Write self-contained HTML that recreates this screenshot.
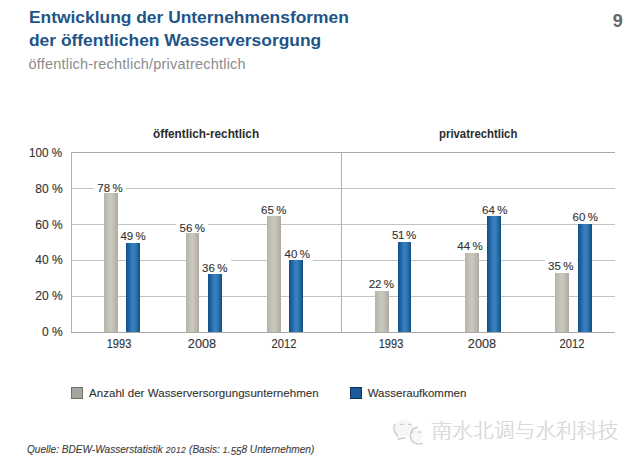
<!DOCTYPE html>
<html><head><meta charset="utf-8">
<style>
*{margin:0;padding:0;box-sizing:border-box}
html,body{width:640px;height:464px;background:#fff;overflow:hidden}
body{position:relative;font-family:"Liberation Sans",Arial,sans-serif;color:#333}
.yl,.xl,.lb,.lg,.src{-webkit-text-stroke:0.12px currentColor}
.a{position:absolute;white-space:nowrap}
.title{left:29px;font-size:17.4px;font-weight:bold;color:#1f5487;line-height:20px}
.sub{left:28.5px;top:55.3px;font-size:14.5px;letter-spacing:0.2px;color:#8c8c8c;line-height:18px}
.pg{left:612.8px;top:11.9px;font-size:18px;line-height:18px;font-weight:bold;color:#666}
.hd{font-size:12.5px;font-weight:bold;color:#2b2b2b;line-height:14px;transform-origin:0 0}
.hl{position:absolute;height:1px;background:#c2c2c2}
.vl{position:absolute;width:1px;background:#b2b2b2}
.yl{position:absolute;right:577.3px;font-size:12px;color:#333;line-height:12px;text-align:right;transform-origin:100% 0}
.xl{position:absolute;font-size:12px;color:#333;line-height:12px;width:40px;margin-left:-20px;text-align:center}
.bar{position:absolute;width:13.8px;bottom:132px;z-index:2}
.g{background:linear-gradient(to right,#b6b4a8 0%,#c4c2b6 30%,#cbc9be 50%,#c0bcb3 72%,#aea8a1 100%)}
.b{background:linear-gradient(to right,#164d82 0%,#1b64a4 20%,#3c7cc2 45%,#3a7fba 58%,#2170a8 78%,#164a7a 100%)}
.lb{position:absolute;font-size:11.5px;color:#333;line-height:12px;background:#fff;padding:2.4px 3.3px 1px;word-spacing:-0.8px;transform:translateX(-50%);z-index:1}
.lg{font-size:11.5px;color:#333;line-height:13px}
.sw{position:absolute;width:12px;height:12px}
.src{left:27.3px;top:442px;font-size:11px;font-style:italic;color:#3c3c3c;line-height:14px;transform-origin:0 0;transform:scaleX(0.917)}
.os{font-size:9.2px;letter-spacing:0.5px}
.dn{font-size:10.6px;position:relative;top:1.8px}
.wm{left:431px;top:418.2px;font-family:"Liberation Sans","Noto Sans CJK SC",sans-serif;font-weight:300;font-size:20.8px;line-height:26px;color:#dadada;text-shadow:-0.6px -0.6px 0 #fff,0.4px 0.4px 0.6px #cdcdcd}
</style></head><body>
<div class="a title" style="top:7px">Entwicklung der Unternehmensformen</div>
<div class="a title" style="top:30px">der öffentlichen Wasserversorgung</div>
<div class="a sub">öffentlich-rechtlich/privatrechtlich</div>
<div class="a pg">9</div>
<div class="a hd" style="left:153px;top:126.6px;transform:scaleX(0.943)">öffentlich-rechtlich</div>
<div class="a hd" style="left:438.5px;top:126.9px;transform:scaleX(0.91)">privatrechtlich</div>
<div class="hl" style="left:71px;width:544px;top:152px;background:#a8a8a8"></div>
<div class="hl" style="left:71px;width:544px;top:188px"></div>
<div class="hl" style="left:71px;width:544px;top:224px"></div>
<div class="hl" style="left:71px;width:544px;top:260px"></div>
<div class="hl" style="left:71px;width:544px;top:296px"></div>
<div class="hl" style="left:71px;width:544px;top:332px;background:#a8a8a8"></div>
<div class="vl" style="left:71px;top:153px;height:179px"></div>
<div class="vl" style="left:341px;top:153px;height:179px"></div>
<div class="yl" style="top:147.3px;transform:scaleX(0.97);right:578px">100 %</div>
<div class="yl" style="top:182.8px">80 %</div>
<div class="yl" style="top:218.5px">60 %</div>
<div class="yl" style="top:254.45px">40 %</div>
<div class="yl" style="top:290.3px">20 %</div>
<div class="yl" style="top:326.45px">0 %</div>
<div class="bar g" style="left:104.0px;top:193.1px"></div>
<div class="bar b" style="left:126.1px;top:242.8px"></div>
<div class="bar g" style="left:185.7px;top:232.9px"></div>
<div class="bar b" style="left:208.1px;top:274.2px"></div>
<div class="bar g" style="left:267.0px;top:216.1px"></div>
<div class="bar b" style="left:289.4px;top:260.1px"></div>
<div class="bar g" style="left:375.0px;top:290.9px"></div>
<div class="bar b" style="left:397.5px;top:241.5px"></div>
<div class="bar g" style="left:464.8px;top:252.5px"></div>
<div class="bar b" style="left:487.0px;top:216.2px"></div>
<div class="bar g" style="left:555.4px;top:273.4px"></div>
<div class="bar b" style="left:578.0px;top:224.0px"></div>
<div class="lb" style="left:110.05px;top:179.61px">78 %</div>
<div class="lb" style="left:133.10px;top:227.61px">49 %</div>
<div class="lb" style="left:192.30px;top:219.61px">56 %</div>
<div class="lb" style="left:214.75px;top:259.61px">36 %</div>
<div class="lb" style="left:273.75px;top:201.61px">65 %</div>
<div class="lb" style="left:297.30px;top:245.61px">40 %</div>
<div class="lb" style="left:381.40px;top:275.61px">22 %</div>
<div class="lb" style="left:404.00px;top:226.61px;letter-spacing:-0.4px">51 %</div>
<div class="lb" style="left:470.00px;top:237.61px">44 %</div>
<div class="lb" style="left:494.80px;top:201.61px">64 %</div>
<div class="lb" style="left:560.80px;top:257.61px">35 %</div>
<div class="lb" style="left:585.30px;top:208.61px">60 %</div>
<div class="xl" style="left:119.2px;top:337.7px;transform:scaleX(0.92)">1993</div>
<div class="xl" style="left:202.1px;top:337.7px;transform:scaleX(1.06)">2008</div>
<div class="xl" style="left:283.5px;top:337.7px;transform:scaleX(0.93)">2012</div>
<div class="xl" style="left:391.2px;top:337.7px;transform:scaleX(0.92)">1993</div>
<div class="xl" style="left:482.2px;top:337.7px;transform:scaleX(1.06)">2008</div>
<div class="xl" style="left:572.4px;top:337.7px;transform:scaleX(0.93)">2012</div>
<div class="sw" style="left:71px;top:387px;background:#a6a59d;border:1px solid #707070"></div>
<div class="a lg" style="left:89px;top:387.2px;letter-spacing:0.05px">Anzahl der Wasserversorgungsunternehmen</div>
<div class="sw" style="left:350px;top:387px;background:#1b5b9b;border:1px solid #0e2f57"></div>
<div class="a lg" style="left:367.7px;top:387.2px">Wasseraufkommen</div>
<svg class="a" style="left:390px;top:414px" width="40" height="34" viewBox="0 0 40 34">
<ellipse cx="13.5" cy="14" rx="10" ry="8.5" fill="#f6f6f6"/><circle cx="25" cy="21.5" r="8" fill="#f8f8f8"/>
<g fill="none" stroke="#c8c8c8" stroke-width="1.3" stroke-linecap="round">
<path d="M4.6,10.4 Q2.2,17 8,22.5"/>
<path d="M8.2,25 L15.3,23.9"/>
<path d="M27.5,13.2 A8.5 8.5 0 1 0 32.2,29.4"/>
<path d="M10.4,10.3 h2.6 M18.6,10.3 h2.6"/>
<path d="M21.4,18.2 h1.8 M28.6,18.2 h1.8"/>
</g></svg>
<div class="a wm">南水北调与水利科技</div>
<div class="a src">Quelle: BDEW-Wasserstatistik <span class="os">2012</span> (Basis: <span class="os">1</span>.<span class="dn">55</span>8 Unternehmen)</div>
</body></html>
